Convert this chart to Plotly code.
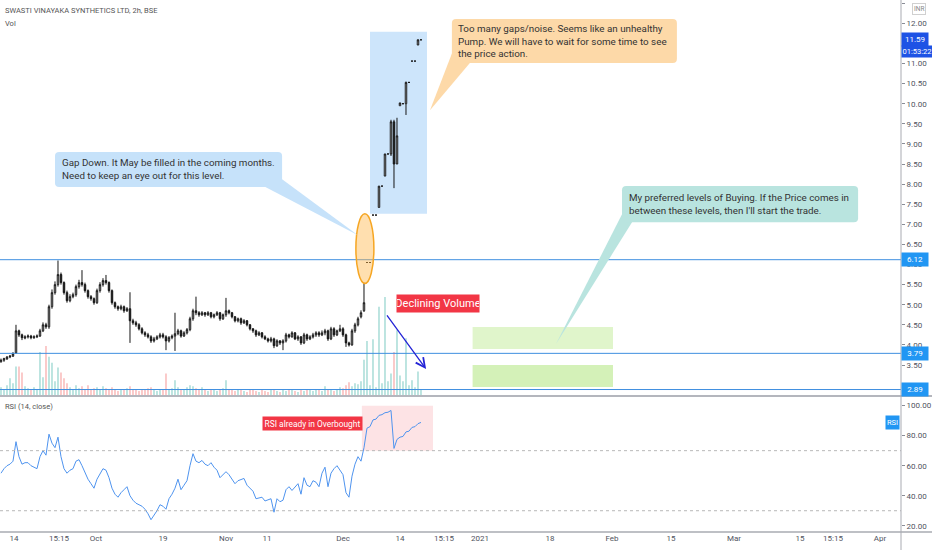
import plotly.graph_objects as go

# ------------------------------------------------------------------ data
TITLE = "SWASTI VINAYAKA SYNTHETICS LTD, 2h, BSE"

OPEN = [3.58, 3.62, 3.65, 3.70, 3.72, 3.80, 4.35, 4.25, 4.17, 4.20,
        4.22, 4.18, 4.20, 4.22, 4.35, 4.50, 4.45, 4.95, 5.30, 5.50,
        5.75, 5.55, 5.30, 5.10, 5.20, 5.25, 5.45, 5.55, 5.50, 5.35,
        5.20, 5.15, 5.05, 5.35, 5.50, 5.60, 5.55, 5.35, 5.05, 4.95,
        4.90, 4.95, 4.85, 4.90, 4.60, 4.55, 4.50, 4.40, 4.30, 4.25,
        4.20, 4.10, 4.15, 4.20, 4.25, 4.20, 4.10, 4.18, 4.22, 4.28,
        4.35, 4.22, 4.30, 4.38, 4.65, 4.85, 4.80, 4.75, 4.80, 4.75,
        4.80, 4.70, 4.75, 4.80, 4.65, 4.75, 4.85, 4.80, 4.70, 4.60,
        4.65, 4.55, 4.60, 4.50, 4.40, 4.35, 4.25, 4.30, 4.20, 4.15,
        4.10, 4.15, 3.98, 4.10, 4.05, 4.10, 4.25, 4.20, 4.30, 4.15,
        4.20, 4.05, 4.25, 4.15, 4.20, 4.25, 4.30, 4.25, 4.30, 4.35,
        4.15, 4.40, 4.25, 4.35, 4.40, 4.25, 4.05, 4.00, 4.35, 4.50,
        4.70, 4.85, 6.05, 6.05, 7.23, 7.23, 7.42, 7.95, 8.20, 8.75,
        8.75, 9.55, 8.50, 9.95, 10.00, 10.00, 10.53, 11.06, 11.06, 11.46,
        11.59]
HIGH = [3.66, 3.68, 3.72, 3.75, 3.82, 4.50, 4.38, 4.28, 4.24, 4.26,
        4.25, 4.24, 4.26, 4.40, 4.56, 4.55, 5.00, 5.38, 5.58, 6.10,
        5.80, 5.58, 5.35, 5.26, 5.30, 5.50, 5.62, 5.86, 5.55, 5.38,
        5.24, 5.18, 5.40, 5.56, 5.66, 5.74, 5.58, 5.38, 5.08, 4.98,
        5.00, 4.98, 4.94, 5.31, 4.65, 4.60, 4.54, 4.44, 4.34, 4.30,
        4.24, 4.20, 4.24, 4.30, 4.30, 4.24, 4.22, 4.26, 4.80, 4.40,
        4.38, 4.34, 4.42, 4.70, 4.90, 5.20, 4.84, 4.84, 4.82, 4.84,
        4.82, 4.78, 4.84, 4.82, 4.78, 5.17, 4.88, 4.82, 4.72, 4.68,
        4.68, 4.64, 4.62, 4.52, 4.42, 4.38, 4.34, 4.32, 4.24, 4.18,
        4.20, 4.18, 4.14, 4.12, 4.14, 4.30, 4.28, 4.34, 4.32, 4.24,
        4.22, 4.30, 4.28, 4.24, 4.30, 4.34, 4.34, 4.36, 4.40, 4.38,
        4.45, 4.44, 4.38, 4.50, 4.44, 4.28, 4.08, 4.40, 4.55, 4.70,
        4.86, 5.55, 6.05, 6.05, 7.23, 7.23, 7.95, 7.95, 8.75, 8.75,
        9.60, 9.60, 9.65, 10.02, 10.00, 10.55, 10.53, 11.06, 11.06, 11.60,
        11.59]
LOW = [3.56, 3.58, 3.63, 3.67, 3.70, 3.78, 4.20, 4.12, 4.14, 4.16,
       4.14, 4.15, 4.17, 4.20, 4.32, 4.40, 4.40, 4.90, 5.25, 5.45,
       5.50, 5.25, 5.05, 5.06, 5.16, 5.20, 5.40, 5.45, 5.30, 5.15,
       5.10, 5.00, 5.02, 5.30, 5.45, 5.50, 5.30, 5.00, 4.90, 4.85,
       4.86, 4.80, 4.82, 4.05, 4.50, 4.45, 4.36, 4.26, 4.20, 4.16,
       4.05, 4.06, 4.12, 4.16, 4.16, 3.87, 4.06, 4.14, 3.85, 4.24,
       4.18, 4.20, 4.26, 4.34, 4.60, 4.74, 4.70, 4.72, 4.70, 4.72,
       4.66, 4.66, 4.72, 4.60, 4.62, 4.70, 4.76, 4.66, 4.56, 4.56,
       4.50, 4.52, 4.46, 4.36, 4.30, 4.20, 4.22, 4.16, 4.12, 4.06,
       4.06, 3.92, 3.95, 4.00, 3.87, 4.06, 4.16, 4.18, 4.12, 4.10,
       4.00, 4.02, 4.10, 4.12, 4.16, 4.20, 4.20, 4.22, 4.24, 4.10,
       4.12, 4.20, 4.22, 4.32, 4.20, 3.95, 3.96, 3.98, 4.30, 4.46,
       4.66, 4.82, 6.05, 6.05, 7.23, 7.23, 7.42, 7.95, 8.20, 8.75,
       8.70, 7.90, 8.50, 9.95, 10.00, 9.72, 10.53, 11.06, 11.06, 11.46,
       11.59]
CLOSE = [3.62, 3.66, 3.70, 3.72, 3.78, 4.35, 4.25, 4.18, 4.20, 4.22,
         4.18, 4.20, 4.22, 4.35, 4.50, 4.45, 4.95, 5.30, 5.50, 5.75,
         5.55, 5.30, 5.10, 5.20, 5.25, 5.45, 5.55, 5.50, 5.35, 5.20,
         5.15, 5.05, 5.35, 5.50, 5.60, 5.55, 5.35, 5.05, 4.95, 4.90,
         4.95, 4.85, 4.90, 4.60, 4.55, 4.50, 4.40, 4.30, 4.25, 4.20,
         4.10, 4.15, 4.20, 4.25, 4.20, 4.10, 4.18, 4.22, 4.28, 4.35,
         4.22, 4.30, 4.38, 4.65, 4.85, 4.80, 4.75, 4.80, 4.75, 4.80,
         4.70, 4.75, 4.80, 4.65, 4.75, 4.85, 4.80, 4.70, 4.60, 4.65,
         4.55, 4.60, 4.50, 4.40, 4.35, 4.25, 4.30, 4.20, 4.15, 4.10,
         4.15, 3.98, 4.10, 4.05, 4.10, 4.25, 4.20, 4.30, 4.15, 4.20,
         4.05, 4.25, 4.15, 4.20, 4.25, 4.30, 4.25, 4.30, 4.35, 4.15,
         4.40, 4.25, 4.35, 4.40, 4.25, 4.05, 4.00, 4.35, 4.50, 4.65,
         4.80, 5.05, 6.05, 6.05, 7.23, 7.23, 7.95, 7.95, 8.75, 8.75,
         9.55, 8.50, 9.20, 10.02, 10.00, 10.53, 10.53, 11.06, 11.06, 11.59,
         11.59]
VOLUME = [8, 6, 10, 17, 12, 29, 29, 23, 9, 7,
          5, 8, 6, 44, 18, 50, 39, 33, 14, 28,
          23, 17, 12, 8, 6, 10, 7, 9, 6, 10,
          5, 7, 8, 6, 9, 7, 5, 8, 6, 4,
          6, 5, 7, 9, 6, 5, 4, 6, 5, 7,
          8, 5, 4, 6, 5, 22, 6, 7, 15, 8,
          5, 6, 8, 10, 9, 7, 6, 8, 5, 4,
          6, 5, 4, 6, 7, 15, 6, 5, 4, 6,
          5, 4, 3, 5, 6, 4, 3, 5, 4, 3,
          5, 6, 4, 3, 5, 4, 6, 5, 4, 3,
          5, 4, 6, 5, 4, 6, 5, 4, 9, 5,
          6, 4, 5, 8, 7, 10, 13, 9, 12, 11,
          14, 36, 55, 10, 57, 8, 90, 12, 100, 14,
          22, 44, 66, 20, 14, 58, 10, 15, 8, 24,
          6]
RSI = [55, 58, 60, 61, 63, 76, 66, 61, 62, 62,
       60, 59, 58, 66, 70, 67, 81, 75, 72, 79,
       66, 58, 55, 57, 58, 63, 64, 60, 55, 51,
       48, 45, 51, 55, 58, 57, 52, 45, 41, 39,
       42, 44, 46, 40, 37, 35, 34, 33, 31, 28,
       24, 27, 30, 34, 33, 31, 38, 41, 45, 51,
       44, 47, 50, 60, 68, 63, 62, 63.5, 61, 60,
       62, 59, 57, 52, 54, 56, 54, 51, 48, 50,
       51, 51.5, 47, 45, 43, 38, 38.5, 39, 36.5, 37,
       38, 29, 38, 36, 37, 44, 46, 43.5, 46, 48,
       41, 52, 47, 46, 50, 49, 46, 55, 59, 46,
       55, 58, 60, 57, 54, 42, 39, 53, 61, 66,
       63, 72, 85, 86, 90.5, 91, 93.5, 94, 95.3, 95.6,
       96.8, 71.5, 77.5, 79, 79.5, 82.5, 83, 85.5, 86, 88,
       88.8]

LEVELS = [6.12, 3.79, 2.89]
LAST_PRICE = 11.59
COUNTDOWN = "01:53:22"

TICK_POS = [4.33, 19.33, 31.67, 54, 75, 88.67, 114, 133, 147.67, 159.67,
            183, 203.67, 223.33, 244.33, 266.33, 277.33, 293]
TICK_TEXT = ["14", "15:15", "Oct", "19", "Nov", "11", "Dec", "14", "15:15", "2021",
             "18", "Feb", "15", "Mar", "15", "15:15", "Apr"]
PRICE_TICKS = [3.00, 3.50, 4.00, 4.50, 5.00, 5.50, 6.00, 6.50, 7.00, 7.50, 8.00,
               8.50, 9.00, 9.50, 10.00, 10.50, 11.00, 12.00, 12.50]
RSI_TICKS = [20, 40, 60, 80, 100]
RSI_BANDS = [70, 30]

NOTE_GAP = "Gap Down. It May be filled in the coming months.<br>Need to keep an eye out for this level."
NOTE_PUMP = ("Too many gaps/noise. Seems like an unhealthy<br>Pump. We will have to wait for some time to see"
             "<br>the price action.")
NOTE_BUY = "My preferred levels of Buying. If the Price comes in<br>between these levels, then I'll start the trade."
LABEL_VOL = "Declining Volume"
LABEL_RSI = "RSI already in Overbought"

assert len(OPEN) == len(HIGH) == len(LOW) == len(CLOSE) == len(VOLUME) == len(RSI)
BARS = list(range(len(CLOSE)))

# ------------------------------------------------------------------ layout constants
W, H = 932, 550
MR, MB = 31, 18
PW, PH = W - MR, H - MB
MAIN_BOT_PX = 395
RSI_TOP_PX = 397


def pyp(py):
    return (PH - py) / PH


def pxp(px):
    return px / PW


NOTE_FONT = "Roboto, Liberation Sans, sans-serif"
AX_FONT = dict(family="Roboto, DejaVu Sans, sans-serif", size=8, color="#50535e")

X_RANGE = [-0.33, 300.0]
PRICE_RANGE = [2.754, 12.58]
RSI_RANGE = [15.83, 105.75]
VOL_RANGE = [0, max(VOLUME) * 395 / 98]

TEAL = "rgba(38,166,154,0.45)"
RED = "rgba(239,83,80,0.45)"
vol_colors = [TEAL if c >= o else RED for o, c in zip(OPEN, CLOSE)]

fig = go.Figure()
fig.add_trace(go.Candlestick(
    x=BARS, open=OPEN, high=HIGH, low=LOW, close=CLOSE,
    increasing=dict(line=dict(color="#151515", width=1), fillcolor="#ffffff"),
    decreasing=dict(line=dict(color="#151515", width=1), fillcolor="#151515"),
    xaxis="x", yaxis="y", hoverinfo="skip"))
fig.add_trace(go.Bar(x=BARS, y=VOLUME, marker=dict(color=vol_colors, line=dict(width=0)),
                     width=0.45, xaxis="x", yaxis="y3", hoverinfo="skip"))
fig.add_trace(go.Scatter(x=BARS, y=RSI, mode="lines", line=dict(color="#4f94ef", width=1),
                         xaxis="x2", yaxis="y2", hoverinfo="skip"))


def rbox(x0, y0, x1, y1, rx, ry):
    return (f"M{x0+rx},{y1} L{x1-rx},{y1} Q{x1},{y1} {x1},{y1-ry} L{x1},{y0+ry} "
            f"Q{x1},{y0} {x1-rx},{y0} L{x0+rx},{y0} Q{x0},{y0} {x0},{y0+ry} "
            f"L{x0},{y1-ry} Q{x0},{y1} {x0+rx},{y1} Z")


def tri(a, b, c):
    return f"M{a[0]},{a[1]} L{b[0]},{b[1]} L{c[0]},{c[1]} Z"


shapes = []
shapes.append(dict(type="rect", xref="x", yref="y", x0=123, x1=142, y0=7.26, y1=11.79,
                   fillcolor="#cde5fb", line=dict(width=0), layer="below"))
shapes.append(dict(type="rect", xref="x", yref="y", x0=157.2, x1=204, y0=3.90, y1=4.445,
                   fillcolor="#e0f5cb", line=dict(width=0), layer="below"))
shapes.append(dict(type="rect", xref="x", yref="y", x0=157.2, x1=204, y0=2.95, y1=3.50,
                   fillcolor="#d4f1b8", line=dict(width=0), layer="below"))
for lvl in LEVELS:
    shapes.append(dict(type="line", xref="x domain", yref="y", x0=0, x1=1, y0=lvl, y1=lvl,
                       line=dict(color="#3f8fe0", width=1)))
shapes.append(dict(type="circle", xref="x", yref="y", x0=118.3, x1=124.3, y0=5.53, y1=7.26,
                   fillcolor="rgba(255,183,77,0.45)", line=dict(color="#f6a623", width=1.5)))
BLUE_NOTE, ORANGE_NOTE, TEAL_NOTE = "#c6e2fa", "#fdd9a8", "#b9e4df"
shapes.append(dict(type="path", xref="x", yref="y", path=tri((87, 7.97), (93.7, 8.12), (119, 6.73)),
                   fillcolor=BLUE_NOTE, line=dict(width=0)))
shapes.append(dict(type="path", xref="x", yref="y", path=rbox(18, 7.93, 93.7, 8.80, 1.4, 0.1),
                   fillcolor=BLUE_NOTE, line=dict(width=0)))
shapes.append(dict(type="path", xref="x", yref="y", path=tri((150.3, 11.25), (156.5, 11.03), (143, 9.84)),
                   fillcolor=ORANGE_NOTE, line=dict(width=0)))
shapes.append(dict(type="path", xref="x", yref="y", path=rbox(150.3, 11.01, 225.3, 12.11, 1.4, 0.1),
                   fillcolor=ORANGE_NOTE, line=dict(width=0)))
shapes.append(dict(type="path", xref="x", yref="y", path=tri((207, 7.25), (210.5, 7.07), (185, 4.02)),
                   fillcolor=TEAL_NOTE, line=dict(width=0)))
shapes.append(dict(type="path", xref="x", yref="y", path=rbox(207, 7.05, 285.7, 7.95, 1.4, 0.1),
                   fillcolor=TEAL_NOTE, line=dict(width=0)))
shapes.append(dict(type="rect", xref="x2", yref="y2", x0=120.3, x1=144, y0=70, y1=100,
                   fillcolor="rgba(242,54,69,0.14)", line=dict(width=0), layer="below"))
for b in RSI_BANDS:
    shapes.append(dict(type="line", xref="x2 domain", yref="y2", x0=0, x1=1, y0=b, y1=b,
                       line=dict(color="#b8b8b8", width=1, dash="3px,3px")))
shapes.append(dict(type="line", xref="paper", yref="paper", x0=0, x1=W / PW,
                   y0=pyp(MAIN_BOT_PX + 1), y1=pyp(MAIN_BOT_PX + 1), line=dict(color="#b4b6bd", width=2)))
shapes.append(dict(type="line", xref="paper", yref="paper", x0=0, x1=W / PW, y0=0, y1=0,
                   line=dict(color="#a9abb2", width=1.5)))
shapes.append(dict(type="line", xref="paper", yref="paper", x0=1, x1=1, y0=-MB / PH, y1=1,
                   line=dict(color="#a9abb2", width=1)))

ann = []
small = dict(family=NOTE_FONT, size=7.5, color="#555")
ann.append(dict(xref="paper", yref="paper", x=0, xshift=3, y=pyp(11), xanchor="left", yanchor="middle",
                text=TITLE, showarrow=False, font=small))
ann.append(dict(xref="paper", yref="paper", x=0, xshift=3, y=pyp(23), xanchor="left", yanchor="middle",
                text="Vol", showarrow=False, font=small))
ann.append(dict(xref="paper", yref="paper", x=0, xshift=3, y=pyp(406), xanchor="left", yanchor="middle",
                text="RSI (14, close)", showarrow=False, font=small))
note_font = dict(family=NOTE_FONT, size=9.8, color="#333")
ann.append(dict(xref="x", yref="y", x=19.7, y=8.37, xanchor="left", yanchor="middle", align="left",
                text=NOTE_GAP, showarrow=False, font=note_font))
ann.append(dict(xref="x", yref="y", x=151.7, y=11.56, xanchor="left", yanchor="middle", align="left",
                text=NOTE_PUMP, showarrow=False, font=note_font))
ann.append(dict(xref="x", yref="y", x=208.7, y=7.50, xanchor="left", yanchor="middle", align="left",
                text=NOTE_BUY, showarrow=False, font=note_font))
ann.append(dict(xref="x", yref="y", x=145.7, y=5.04, text=LABEL_VOL, showarrow=False,
                bgcolor="#f23645", width=82, height=17, borderpad=0,
                font=dict(family=NOTE_FONT, size=11, color="white")))
ann.append(dict(xref="x2", yref="y2", x=103.7, y=88.2, text=LABEL_RSI, showarrow=False,
                bgcolor="#f23645", width=99, height=13, borderpad=0,
                font=dict(family=NOTE_FONT, size=8.4, color="white")))
ann.append(dict(xref="x", yref="y", x=141.7, y=3.40, axref="x", ayref="y", ax=128.3, ay=4.77,
                text="", showarrow=True, arrowhead=5, arrowsize=1.4, arrowwidth=1.3, arrowcolor="#2424d6"))
lab_font = dict(family="Roboto, sans-serif", size=8, color="white")
for lvl in LEVELS:
    ann.append(dict(xref="paper", yref="y", x=1, y=lvl, xanchor="left", yanchor="middle",
                    text=f"{lvl:.2f}", showarrow=False, bgcolor="#2196f3", width=24, height=11,
                    borderpad=1, font=lab_font))
ann.append(dict(xref="paper", yref="y", x=1, y=LAST_PRICE, xanchor="left", yanchor="middle",
                text=f"{LAST_PRICE:.2f}", showarrow=False, bgcolor="#1e53e5", width=24, height=11,
                borderpad=1, font=lab_font))
ann.append(dict(xref="paper", yref="y", x=1, y=LAST_PRICE, yshift=-12, xanchor="left", yanchor="middle",
                text=COUNTDOWN, showarrow=False, bgcolor="#1e53e5", width=30, height=11,
                borderpad=0, font=dict(family="Roboto, sans-serif", size=7.5, color="white")))
ann.append(dict(xref="paper", yref="paper", x=pxp(919), y=pyp(9), xanchor="center", yanchor="middle",
                text="INR", showarrow=False, bgcolor="white", bordercolor="#d0d0d0", borderwidth=1,
                borderpad=1, font=dict(family="Roboto, sans-serif", size=6.5, color="#888")))
ann.append(dict(xref="paper", yref="y2", x=1, xshift=-1, y=88.6, xanchor="right", yanchor="middle",
                text="RSI", showarrow=False, bgcolor="#2196f3", width=13, height=13, borderpad=0,
                font=dict(family="Roboto, sans-serif", size=7.5, color="white")))

main_dom = [pyp(MAIN_BOT_PX), 1]
rsi_dom = [0, pyp(RSI_TOP_PX)]

fig.update_layout(
    width=W, height=H, margin=dict(l=0, r=MR, t=0, b=MB),
    paper_bgcolor="white", plot_bgcolor="white", showlegend=False, hovermode=False,
    shapes=shapes, annotations=ann,
    xaxis=dict(domain=[0, 1], range=X_RANGE, anchor="y", showticklabels=False, showgrid=False,
               zeroline=False, rangeslider=dict(visible=False), fixedrange=True),
    xaxis2=dict(domain=[0, 1], range=X_RANGE, anchor="y2", matches="x", showgrid=False, zeroline=False,
                tickmode="array", tickvals=TICK_POS, ticktext=TICK_TEXT, ticks="", tickfont=AX_FONT),
    yaxis=dict(domain=main_dom, range=PRICE_RANGE, side="right", anchor="x", showgrid=False,
               zeroline=False, tickmode="array", tickvals=PRICE_TICKS, tickformat=".2f",
               ticks="outside", ticklen=3, tickcolor="#8a8d96", tickfont=AX_FONT),
    yaxis2=dict(domain=rsi_dom, range=RSI_RANGE, side="right", anchor="x2", showgrid=False,
                zeroline=False, tickmode="array", tickvals=RSI_TICKS, tickformat=".2f",
                ticks="outside", ticklen=3, tickcolor="#8a8d96", tickfont=AX_FONT),
    yaxis3=dict(range=VOL_RANGE, overlaying="y", anchor="x", visible=False, showgrid=False),
)

fig.write_html("out.html", config={"displayModeBar": False},
               post_script="document.body.style.margin='0px';document.body.style.overflow='hidden';")
